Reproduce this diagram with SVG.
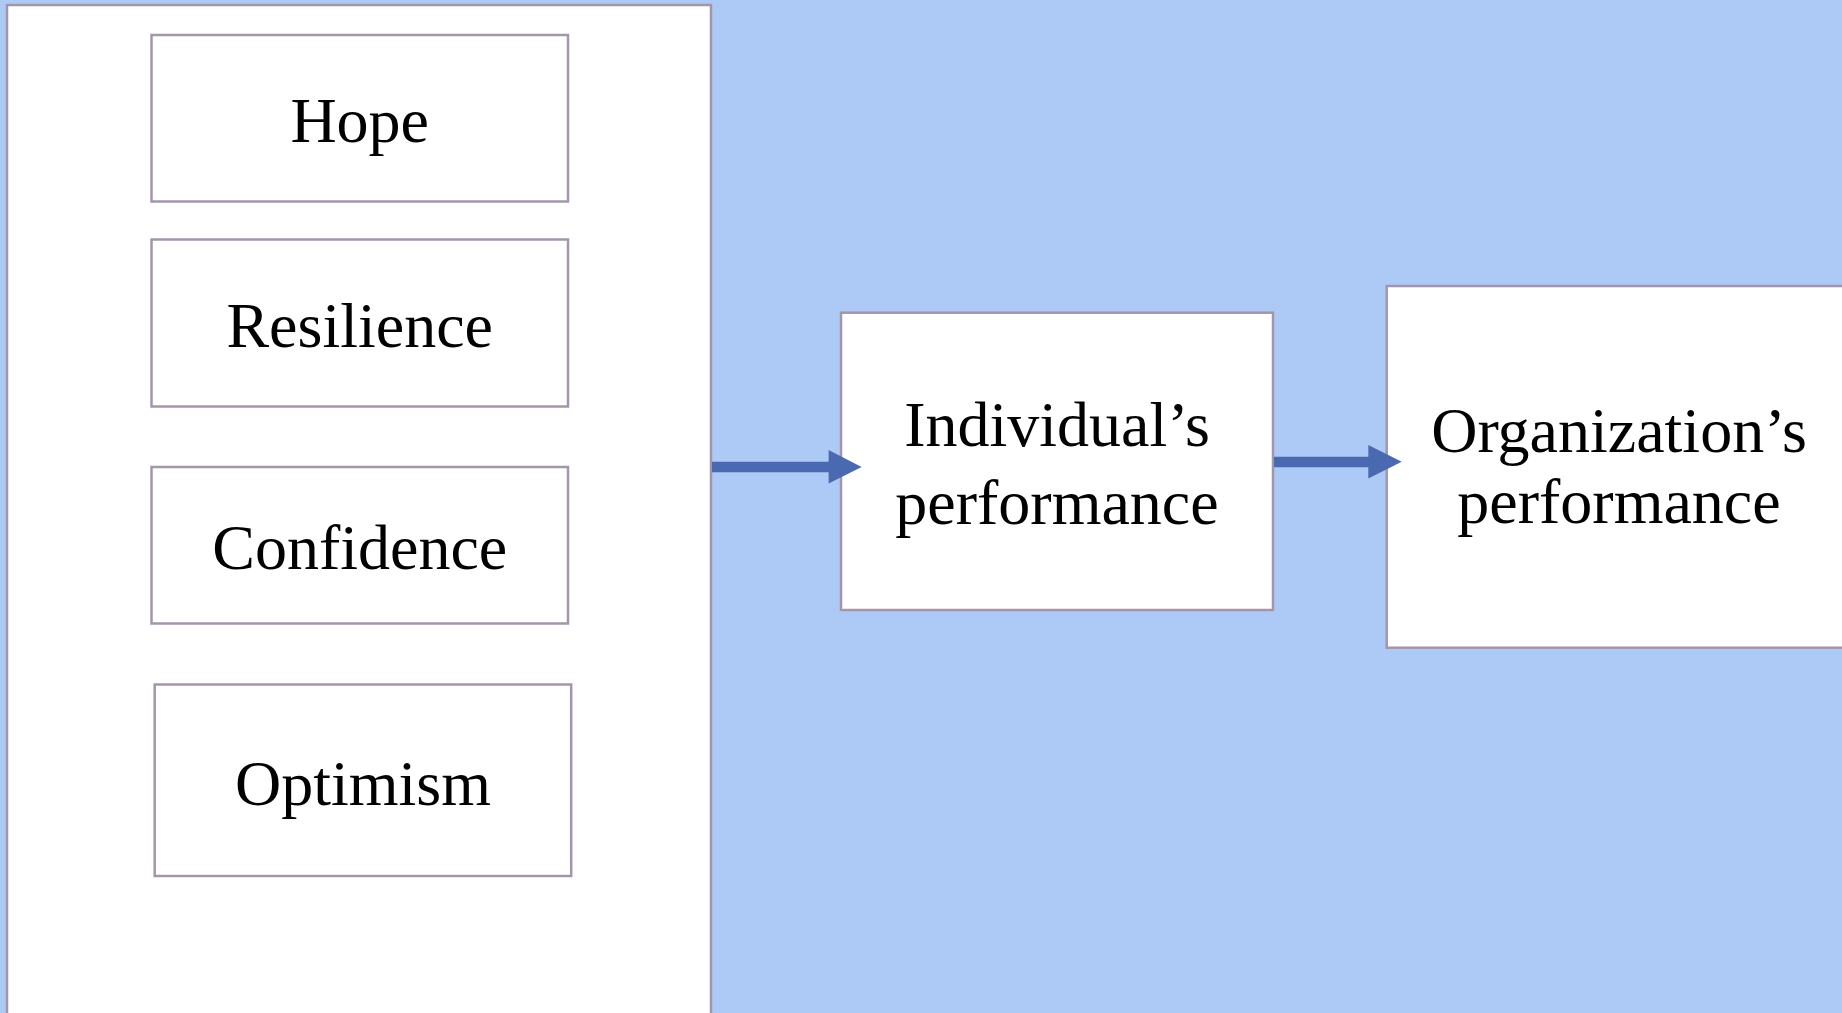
<svg xmlns="http://www.w3.org/2000/svg" width="1842" height="1013" viewBox="0 0 1842 1013">
<style>
.box{fill:#ffffff;stroke:#A496AA;stroke-width:2.5}
.lbl{font-family:"Liberation Serif","Times New Roman",serif;font-size:64px;fill:#000000;text-anchor:middle}
.conn{stroke:#4A69B0;stroke-width:10.5;fill:none}
.head{fill:#4A69B0}
</style>
<rect x="0" y="0" width="1842" height="1013" fill="#ADCAF7"/>
<g id="panel">
<rect class="box" x="7" y="5" width="704" height="1020"/>
</g>
<g id="hope">
<rect class="box" x="151.5" y="35" width="416.5" height="166.5"/>
<text class="lbl" x="359.7" y="141.7">Hope</text>
</g>
<g id="resilience">
<rect class="box" x="151.5" y="239.5" width="416.5" height="167"/>
<text class="lbl" x="359.7" y="346.7">Resilience</text>
</g>
<g id="confidence">
<rect class="box" x="151.5" y="467" width="416.5" height="156.5"/>
<text class="lbl" x="359.7" y="569.4">Confidence</text>
</g>
<g id="optimism">
<rect class="box" x="154.7" y="684.5" width="416.5" height="191.5"/>
<text class="lbl" x="363" y="804.6">Optimism</text>
</g>
<g id="individual">
<rect class="box" x="841" y="312.7" width="432" height="297.3"/>
<text class="lbl" x="1057" y="446">Individual’s</text>
<text class="lbl" x="1057" y="523.5">performance</text>
</g>
<g id="organization">
<rect class="box" x="1386.7" y="286" width="470" height="361.7"/>
<text class="lbl" x="1619" y="451.7">Organization’s</text>
<text class="lbl" x="1619" y="523.3">performance</text>
</g>
<g id="connectors">
<line class="conn" x1="712" y1="467" x2="830" y2="467"/>
<polygon class="head" points="828.6,450 861.6,467 828.6,483.5"/>
<line class="conn" x1="1274" y1="462" x2="1370" y2="462"/>
<polygon class="head" points="1368.3,445 1401.7,461.8 1368.3,478.5"/>
</g>
</svg>
